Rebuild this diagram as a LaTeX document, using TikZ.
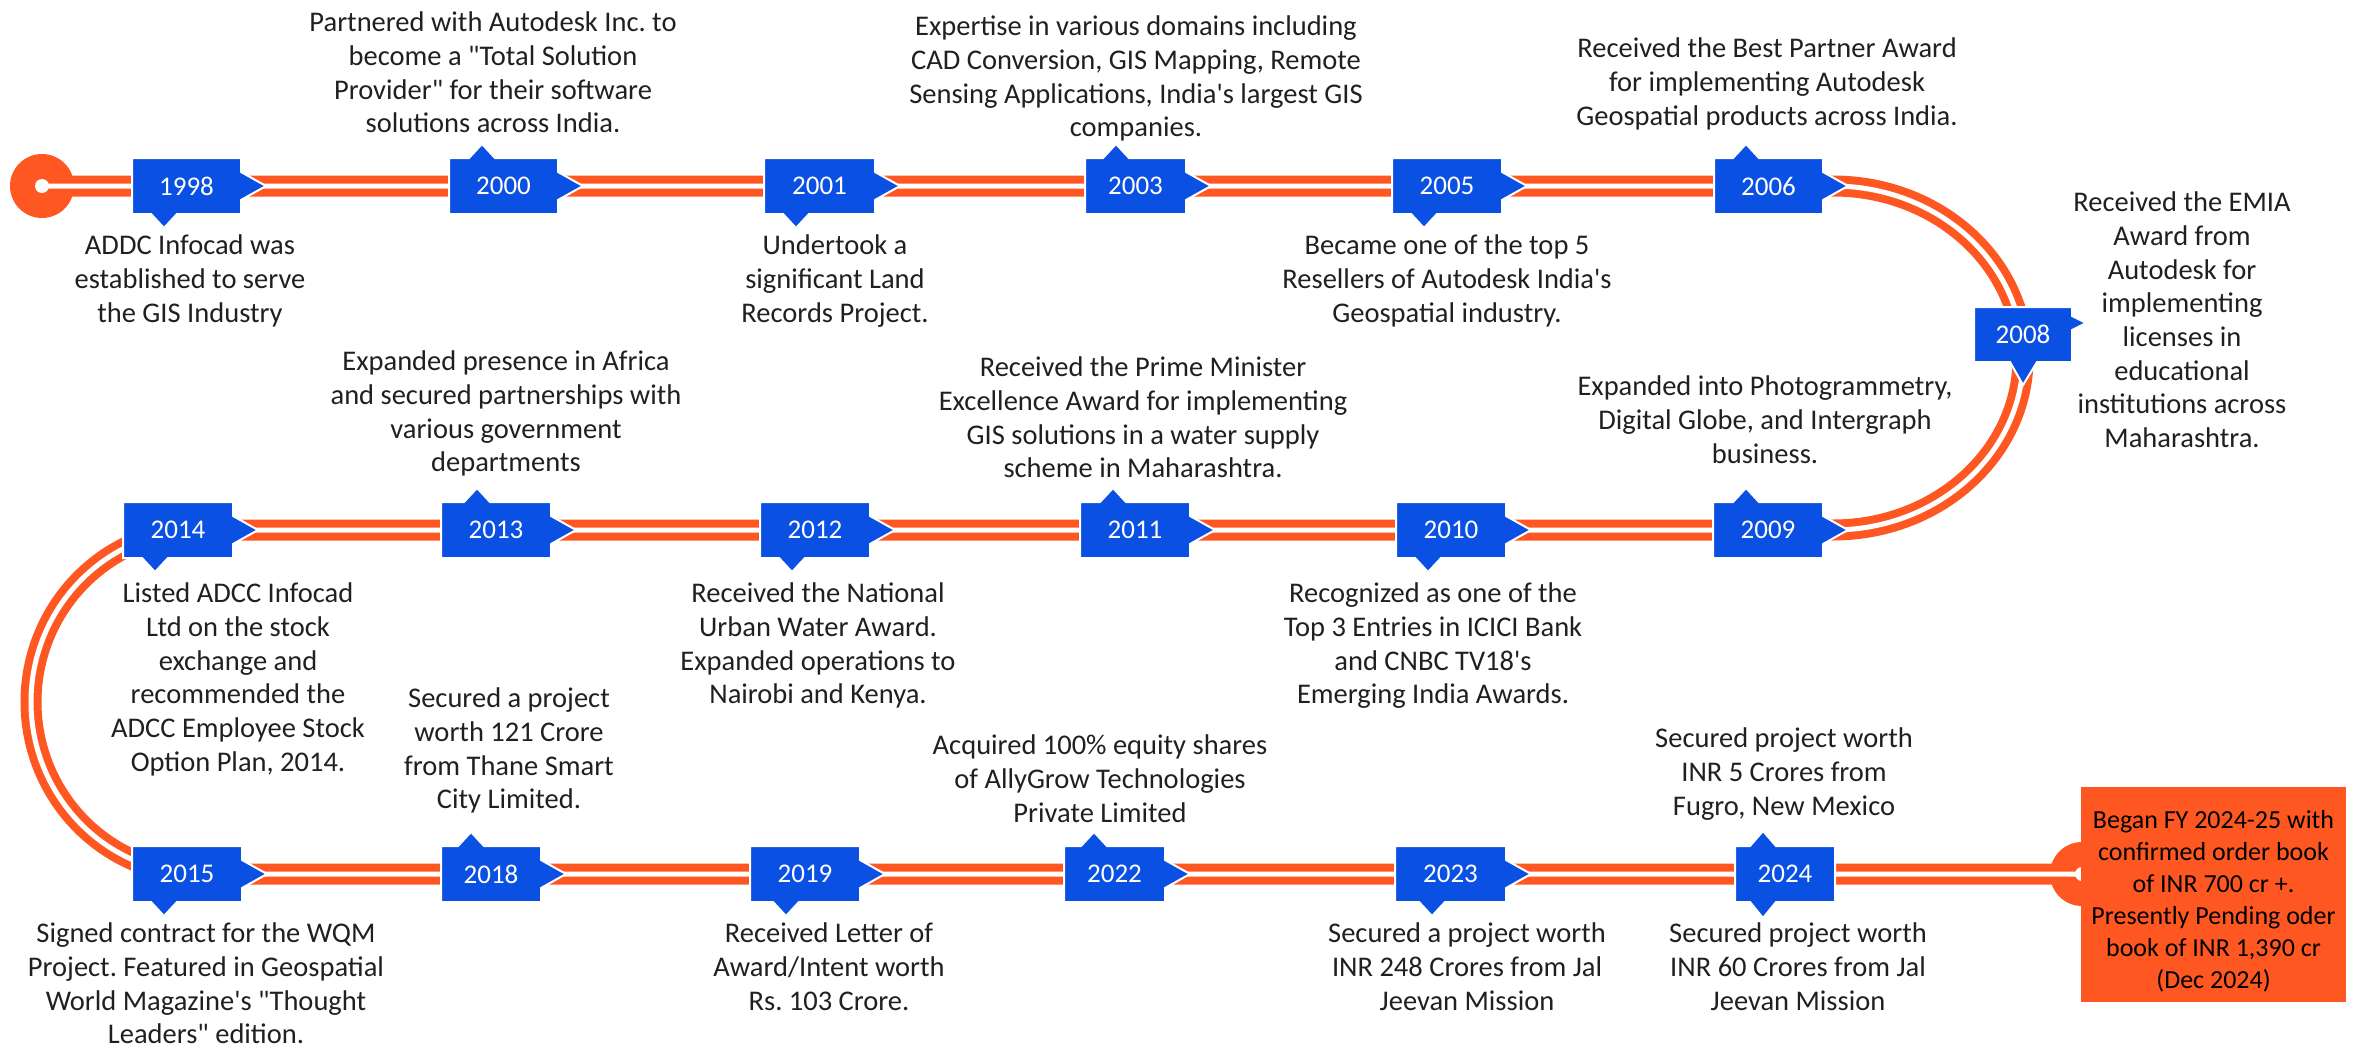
\documentclass[tikz,border=0pt]{standalone}
\usepackage{fontspec}
\setmainfont{Carlito}[Ligatures=TeXOff]
\frenchspacing
\definecolor{tlorange}{RGB}{255,87,34}
\definecolor{tlblue}{RGB}{10,80,226}
\definecolor{txtgray}{RGB}{32,32,32}
\newcommand\fst{\rule{0pt}{21.5pt}}
% down-pointer tag: #1 xl, #2 xr, #3 yc, #4 pointer x, #5 year
\newcommand\tagdn[5]{%
  \path[tagshape] ({#1},{#3-28}) -- ({#2},{#3-28}) -- ({#2},{#3-14}) -- ({#2+25},{#3}) -- ({#2},{#3+14}) -- ({#2},{#3+28}) -- ({#4+13},{#3+28}) -- ({#4},{#3+42}) -- ({#4-13},{#3+28}) -- ({#1},{#3+28}) -- cycle;
  \node[year] (y#5) at ({(#1+#2)/2},{#3}) {#5};}
\newcommand\tagup[5]{%
  \path[tagshape] ({#1},{#3-28}) -- ({#4-13},{#3-28}) -- ({#4},{#3-42}) -- ({#4+13},{#3-28}) -- ({#2},{#3-28}) -- ({#2},{#3-14}) -- ({#2+25},{#3}) -- ({#2},{#3+14}) -- ({#2},{#3+28}) -- ({#1},{#3+28}) -- cycle;
  \node[year] (y#5) at ({(#1+#2)/2},{#3}) {#5};}
\newcommand\tagboth[5]{%
  \path[tagshape] ({#1},{#3-28}) -- ({#4-13},{#3-28}) -- ({#4},{#3-43}) -- ({#4+13},{#3-28}) -- ({#2},{#3-28}) -- ({#2},{#3+28}) -- ({#4+13},{#3+28}) -- ({#4},{#3+44}) -- ({#4-13},{#3+28}) -- ({#1},{#3+28}) -- cycle;
  \node[year] (y#5) at ({(#1+#2)/2},{#3}) {#5};}
\begin{document}
\begin{tikzpicture}[x=1pt,y=-1pt,
  desc/.style={align=center, inner sep=0pt, anchor=north, text=txtgray, font=\fontsize{28.5}{33.7}\selectfont},
  year/.style={text=white, font=\fontsize{27}{30}\selectfont, inner sep=0pt},
  tagshape/.style={fill=tlblue, draw=white, line width=2pt, line join=miter},
  track/.style={draw=tlorange, line width=8pt, double=white, double distance=5pt},
]
\useasboundingbox (0,0) rectangle (2368,1049);
\fill[white] (0,0) rectangle (2368,1049);

\coordinate (start) at (42,186);
\coordinate (end) at (2082,874);

% discs
\fill[tlorange] (start) circle[radius=32pt];
\fill[tlorange] (end) circle[radius=32pt];

% track
\draw[track] (start) -- (1833,186)
  .. controls (1938,186) and (2023,263) .. (2023,358)
  .. controls (2023,453) and (1938,530) .. (1833,530)
  -- (200,530)
  .. controls (107,530) and (31,607) .. (31,702)
  .. controls (31,797) and (107,874) .. (200,874)
  -- (end);

\fill[white] (start) circle[radius=7pt];
\fill[white] (end) circle[radius=7pt];

% end box
\node (endbox) [fill=tlorange, inner sep=0pt, minimum width=265pt, minimum height=215pt] at (2213.5,894.5) {};
\node (endtext) [align=center, inner sep=0pt, text=black, font=\fontsize{26}{32}\selectfont] at (2213.5,901)
  {Began FY 2024-25 with\\confirmed order book\\of INR 700 cr +.\\Presently Pending oder\\book of INR 1,390 cr\\(Dec 2024)};

% row 1 tags
\tagdn{132}{241}{186}{164}{1998}
\tagup{449}{558}{186}{482}{2000}
\tagdn{764}{875}{186}{796}{2001}
\tagup{1085}{1186}{186}{1116}{2003}
\tagdn{1392}{1502}{186}{1424}{2005}
\tagup{1714}{1823}{186}{1746}{2006}
% 2008 special
\path[tagshape] (1974,307) -- (2072,307) -- (2072,316) -- (2086,323) -- (2072,330) -- (2072,362) -- (2037,362) -- (2023,385) -- (2010,362) -- (1974,362) -- cycle;
\node[year] (y2008) at (2023,334.5) {2008};
% row 2 tags
\tagdn{123}{233}{530}{155}{2014}
\tagup{441}{551}{530}{477}{2013}
\tagdn{760}{870}{530}{792}{2012}
\tagup{1080}{1190}{530}{1113}{2011}
\tagdn{1396}{1506}{530}{1428}{2010}
\tagup{1713}{1823}{530}{1746}{2009}
% row 3 tags
\tagdn{132}{242}{874}{164}{2015}
\tagup{441}{541}{874}{471}{2018}
\tagdn{750}{860}{874}{786}{2019}
\tagup{1064}{1165}{874}{1094}{2022}
\tagdn{1395}{1506}{874}{1432}{2023}
\tagboth{1735}{1835}{874}{1763}{2024}

% descriptions
\node[desc] (d1998) at (190,233) {\fst ADDC Infocad was\\established to serve\\the GIS Industry};
\node[desc] (d2000) at (493,10) {\fst Partnered with Autodesk Inc. to\\become a "Total Solution\\Provider" for their software\\solutions across India.};
\node[desc] (d2001) at (835,233) {\fst Undertook a\\significant Land\\Records Project.};
\node[desc] (d2003) at (1136,14) {\fst Expertise in various domains including\\CAD Conversion, GIS Mapping, Remote\\Sensing Applications, India's largest GIS\\companies.};
\node[desc] (d2005) at (1447,233) {\fst Became one of the top 5\\Resellers of Autodesk India's\\Geospatial industry.};
\node[desc] (d2006) at (1767,36) {\fst Received the Best Partner Award\\for implementing Autodesk\\Geospatial products across India.};
\node[desc] (d2008) at (2182,190) {\fst Received the EMIA\\Award from\\Autodesk for\\implementing\\licenses in\\educational\\institutions across\\Maharashtra.};
\node[desc] (d2014) at (238,581) {\fst Listed ADCC Infocad\\Ltd on the stock\\exchange and\\recommended the\\ADCC Employee Stock\\Option Plan, 2014.};
\node[desc] (d2013) at (506,349) {\fst Expanded presence in Africa\\and secured partnerships with\\various government\\departments};
\node[desc] (d2012) at (818,581) {\fst Received the National\\Urban Water Award.\\Expanded operations to\\Nairobi and Kenya.};
\node[desc] (d2011) at (1143,355) {\fst Received the Prime Minister\\Excellence Award for implementing\\GIS solutions in a water supply\\scheme in Maharashtra.};
\node[desc] (d2010) at (1433,581) {\fst Recognized as one of the\\Top 3 Entries in ICICI Bank\\and CNBC TV18's\\Emerging India Awards.};
\node[desc] (d2009) at (1765,374) {\fst Expanded into Photogrammetry,\\Digital Globe, and Intergraph\\business.};
\node[desc] (d2015) at (206,921) {\fst Signed contract for the WQM\\Project. Featured in Geospatial\\World Magazine's "Thought\\Leaders" edition.};
\node[desc] (d2018) at (509,686) {\fst Secured a project\\worth 121 Crore\\from Thane Smart\\City Limited.};
\node[desc] (d2019) at (829,921) {\fst Received Letter of\\Award/Intent worth\\Rs. 103 Crore.};
\node[desc] (d2022) at (1100,733) {\fst Acquired 100\% equity shares\\of AllyGrow Technologies\\Private Limited};
\node[desc] (d2023) at (1467,921) {\fst Secured a project worth\\INR 248 Crores from Jal\\Jeevan Mission};
\node[desc] (d2024a) at (1784,726) {\fst Secured project worth\\INR 5 Crores from\\Fugro, New Mexico};
\node[desc] (d2024b) at (1798,921) {\fst Secured project worth\\INR 60 Crores from Jal\\Jeevan Mission};
\end{tikzpicture}
\end{document}
